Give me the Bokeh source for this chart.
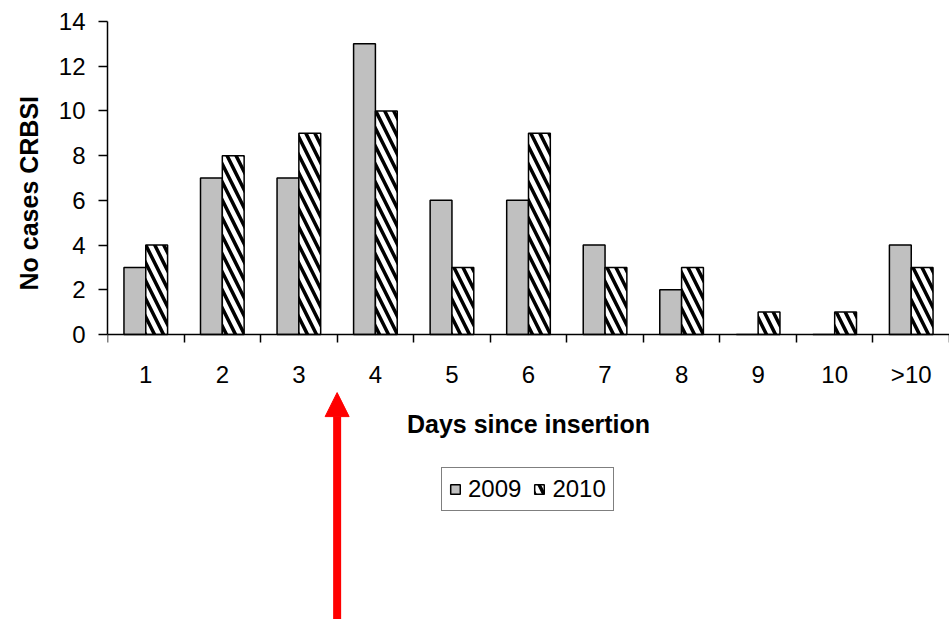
from bokeh.plotting import figure
from bokeh.models import (ColumnDataSource, FixedTicker, Range1d, Legend, LegendItem,
                          Arrow, NormalHead, Title)
from bokeh.embed import file_html
from bokeh.resources import INLINE

# Catheter-related bloodstream infections by days since line insertion
categories = ["1", "2", "3", "4", "5", "6", "7", "8", "9", "10", ">10"]
cases_2009 = [3, 7, 7, 13, 6, 6, 4, 2, 0, 0, 4]
cases_2010 = [4, 8, 9, 10, 3, 9, 3, 3, 1, 1, 3]
y_ticks = [0, 2, 4, 6, 8, 10, 12, 14]

FONT = "Liberation Sans"
n = len(categories)
# each category spans two x units: centre at odd values, boundaries at even values
centers = [2 * i + 1 for i in range(n)]
boundaries = [2 * i for i in range(n + 1)]
bar_w = 0.57

# the frame runs down to the page bottom so the legend and arrow sit inside it;
# the value axis itself only covers 0..14
y_top = 14
y_floor = -12.75

src09 = ColumnDataSource(dict(x=[c - bar_w / 2 for c in centers], top=cases_2009))
src10 = ColumnDataSource(dict(x=[c + bar_w / 2 for c in centers], top=cases_2010))

p = figure(width=949, height=619, output_backend="svg", toolbar_location=None,
           x_range=Range1d(0, 2 * n), y_range=Range1d(y_floor, y_top),
           min_border_left=107, min_border_right=0, min_border_top=21,
           min_border_bottom=0)
p.outline_line_color = None
p.xgrid.visible = False
p.ygrid.visible = False
p.background_fill_color = "white"
p.border_fill_color = "white"

r09 = p.vbar(x="x", top="top", bottom=0, width=bar_w, source=src09,
             fill_color="#c0c0c0", line_color="black", line_width=1.5)
r10 = p.vbar(x="x", top="top", bottom=0, width=bar_w, source=src10,
             fill_color="white", line_color="black", line_width=1.5,
             hatch_pattern="\\", hatch_color="black", hatch_weight=3.5, hatch_scale=18)

# y axis (title is added separately so it sits beside the 0..14 span)
ya = p.yaxis[0]
ya.ticker = FixedTicker(ticks=y_ticks)
ya.bounds = (0, y_top)
ya.axis_line_width = 1.5
ya.axis_line_color = "black"
ya.major_tick_line_width = 1.5
ya.major_tick_in = 0
ya.major_tick_out = 9
ya.minor_tick_line_color = None
ya.major_label_text_font = FONT
ya.major_label_text_font_size = "24px"
ya.major_label_text_color = "black"
ya.major_label_standoff = 13

y_title = Title(text="No cases CRBSI", align="left", offset=329,
                vertical_align="top", standoff=22,
                text_font=FONT, text_font_style="bold", text_font_size="25px",
                text_color="black")
p.add_layout(y_title, "left")

# x axis drawn at zero: labels at category centres, tick marks at category boundaries
xa = p.xaxis[0]
xa.fixed_location = 0
xa.ticker = FixedTicker(ticks=centers, minor_ticks=boundaries)
xa.major_label_overrides = {c: lab for c, lab in zip(centers, categories)}
xa.axis_line_width = 1.5
xa.axis_line_color = "black"
xa.major_tick_line_color = None
xa.major_tick_in = 0
xa.major_tick_out = 0
xa.minor_tick_line_color = "black"
xa.minor_tick_line_width = 1.5
xa.minor_tick_in = 0
xa.minor_tick_out = 8
xa.major_label_text_font = FONT
xa.major_label_text_font_size = "24px"
xa.major_label_text_color = "black"
xa.major_label_standoff = 19
xa.axis_label = "Days since insertion"
xa.axis_label_text_font = FONT
xa.axis_label_text_font_style = "bold"
xa.axis_label_text_font_size = "25px"
xa.axis_label_text_color = "black"
xa.axis_label_standoff = 18

legend = Legend(items=[LegendItem(label="2009", renderers=[r09]),
                       LegendItem(label="2010", renderers=[r10])],
                orientation="horizontal", location=(334, 108),
                border_line_color="black", border_line_width=1.5,
                background_fill_color="white", background_fill_alpha=1,
                label_text_font=FONT, label_text_font_size="24px",
                label_text_color="black",
                glyph_width=12, glyph_height=12, label_standoff=7,
                spacing=12, padding=7, margin=0)
p.add_layout(legend, "center")

# red arrow pointing up at the day 3/4 boundary
p.add_layout(Arrow(x_start=boundaries[3], y_start=y_floor, x_end=boundaries[3], y_end=-2.6,
                   line_color="#ff0000", line_width=8,
                   end=NormalHead(size=24, fill_color="#ff0000", line_color="#ff0000",
                                  line_width=1)))

open("out.html", "w").write(file_html(p, INLINE))
